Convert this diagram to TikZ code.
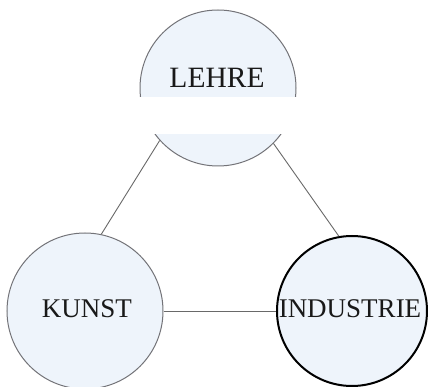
\documentclass[tikz,border=0pt]{standalone}
\usepackage{fontspec}
\setmainfont{Liberation Serif}
\definecolor{fillblue}{RGB}{238,244,251}
\definecolor{ringgray}{RGB}{115,115,120}
\definecolor{linegray}{RGB}{105,105,105}
\begin{document}
\begin{tikzpicture}[x=1pt,y=-1pt,
  ring/.style={circle,draw=ringgray,line width=1pt,fill=fillblue,inner sep=0pt,minimum size=#1},
  boldring/.style={circle,draw=black,line width=2pt,fill=fillblue,inner sep=0pt,minimum size=#1},
  lbl/.style={inner sep=0pt,font=\fontsize{27}{30}\selectfont,text=black!90},
  conn/.style={draw=linegray,line width=0.9pt}]
\useasboundingbox (0,0) rectangle (428,387);
\fill[white] (0,0) rectangle (428,387);
\node[ring=156pt] (lehre) at (218,88) {};
\fill[white] (130,97.5) rectangle (306,134.5);
\node[ring=156pt] (kunst) at (85,311) {};
\node[boldring=150pt] (industrie) at (352,311) {};
\node[lbl,font=\fontsize{29.5}{32}\selectfont] (lehretext) at (217,78) {LEHRE};
\node[lbl] (kunsttext) at (87,309) {KUNST};
\node[lbl] (industrietext) at (350,309) {INDUSTRIE};
\draw[conn] (lehre.222) -- (kunst.78);
\draw[conn] (lehre.315) -- (industrie.100);
\draw[conn] (kunst.east) -- (industrie.west);
\end{tikzpicture}
\end{document}
